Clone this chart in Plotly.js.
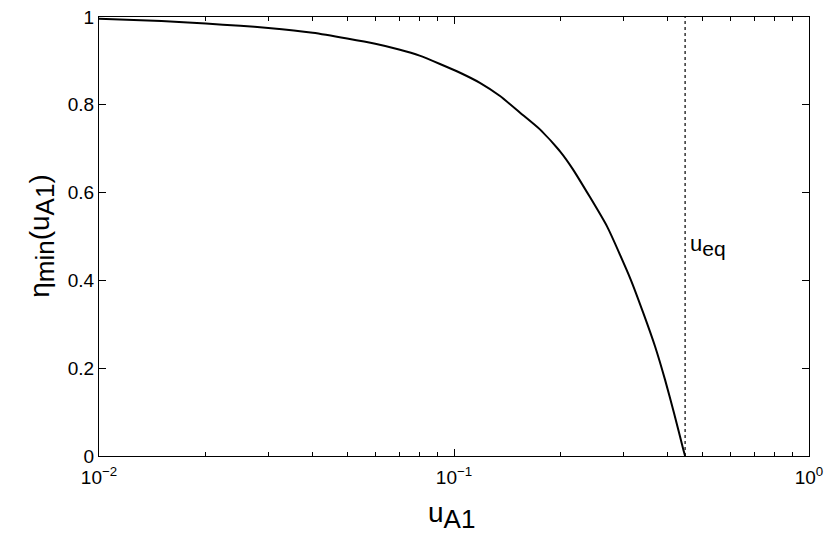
<!DOCTYPE html>
<html>
<head>
<meta charset="utf-8">
<script src="https://cdn.plot.ly/plotly-3.0.1.min.js"></script>
<style>
  html, body { margin: 0; padding: 0; background: #fff; }
  #wykres { width: 830px; height: 539px; }
</style>
</head>
<body>
<div id="wykres"></div>
<script>
// krzywa eta_min(u_A1)
const uA1 = [0.01, 0.015, 0.02, 0.025, 0.03, 0.04, 0.05, 0.06, 0.07, 0.08, 0.0913, 0.104, 0.1183,
             0.1348, 0.1535, 0.1746, 0.1989, 0.2163, 0.2698, 0.3146, 0.3413, 0.3683, 0.393, 0.4166,
             0.4425, 0.4477];
const etaMin = [0.996, 0.991, 0.985, 0.980, 0.975, 0.964, 0.951, 0.939, 0.926, 0.912, 0.893, 0.873, 0.850,
                0.820, 0.782, 0.744, 0.694, 0.653, 0.523, 0.402, 0.326, 0.250, 0.174, 0.098,
                0.015, 0];

// pionowa linia u_eq
const uEq = 0.4477;
const liniaEqY = [0, 1];
const etykietaEq = 'u<sub><span style="font-size:21px">eq</span></sub>';

// podpisy osi
const tytulX = 'u<sub><span style="font-size:26px">A1</span></sub>';
const tytulY = 'η<sub><span style="font-size:26px">min</span></sub>(u<sub><span style="font-size:26px">A1</span></sub>)';

// dekady osi x i male kreski 2..9
const dekady = [0.01, 0.1, 1];
const maleKreski = [];
for (let d = 0; d < dekady.length - 1; d++) {
  for (let k = 2; k <= 9; k++) maleKreski.push(dekady[d] * k);
}

const krzywa = {
  x: uA1,
  y: etaMin,
  mode: 'lines',
  line: { color: 'black', width: 2, shape: 'spline', smoothing: 0.5 },
  hoverinfo: 'skip'
};

const liniaEq = {
  x: [uEq, uEq],
  y: liniaEqY,
  mode: 'lines',
  line: { color: 'black', width: 1.2, dash: 'dot' },
  hoverinfo: 'skip'
};

const layout = {
  width: 830,
  height: 539,
  margin: { l: 99, r: 21, t: 17, b: 83 },
  paper_bgcolor: 'white',
  plot_bgcolor: 'white',
  showlegend: false,
  font: { family: "'Liberation Sans', Arial, sans-serif", color: 'black', size: 19 },
  xaxis: {
    type: 'log',
    range: [-2, 0],
    tickmode: 'array',
    tickvals: dekady,
    ticktext: ['10<sup>−2</sup>', '10<sup>−1</sup>', '10<sup>0</sup>'],
    ticks: 'inside',
    ticklen: 7,
    tickcolor: 'black',
    ticklabelstandoff: 4,
    minor: { tickmode: 'array', tickvals: maleKreski, ticks: 'inside', ticklen: 4, tickcolor: 'black' },
    showline: true,
    linecolor: 'black',
    linewidth: 1,
    mirror: 'ticks',
    showgrid: false,
    zeroline: false,
    tickfont: { size: 19 }
  },
  yaxis: {
    range: [0, 1],
    tickmode: 'linear',
    tick0: 0,
    dtick: 0.2,
    ticks: 'inside',
    ticklen: 7,
    tickcolor: 'black',
    showline: true,
    linecolor: 'black',
    linewidth: 1,
    mirror: 'ticks',
    showgrid: false,
    zeroline: false,
    tickfont: { size: 19 }
  },
  annotations: [
    {
      x: Math.log10(uEq), y: 0.48, xref: 'x', yref: 'y',
      text: etykietaEq, showarrow: false,
      xanchor: 'left', yanchor: 'middle', xshift: 3,
      font: { size: 22 }
    },
    {
      x: 0.497, y: -0.135, xref: 'paper', yref: 'paper',
      text: tytulX, showarrow: false,
      xanchor: 'center', yanchor: 'middle',
      font: { size: 28 }
    },
    {
      x: -0.08, y: 0.502, xref: 'paper', yref: 'paper',
      text: tytulY, showarrow: false, textangle: -90,
      xanchor: 'center', yanchor: 'middle',
      font: { size: 28 }
    }
  ]
};

Plotly.newPlot('wykres', [krzywa, liniaEq], layout, { staticPlot: true });
</script>
</body>
</html>
